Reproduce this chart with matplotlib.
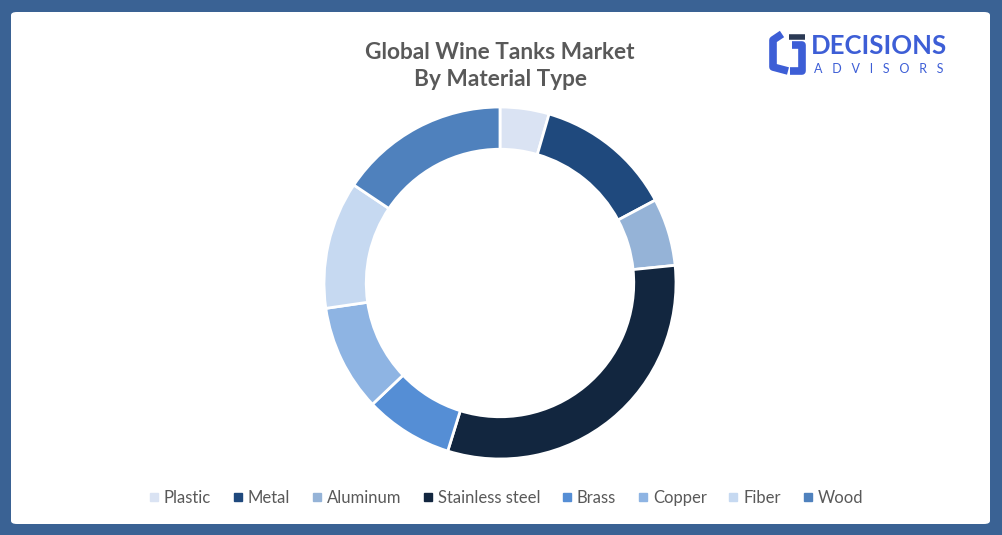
import matplotlib
matplotlib.use("Agg")
import matplotlib.pyplot as plt
from matplotlib.patches import FancyBboxPatch
from matplotlib.lines import Line2D

materials = ["Plastic", "Metal", "Aluminum", "Stainless steel", "Brass", "Copper", "Fiber", "Wood"]
shares = [4.5, 12.7, 6.2, 31.4, 8.1, 9.8, 11.7, 15.6]
colors = ["#dae3f3", "#1f497d", "#95b3d7", "#12263f", "#558ed5", "#8eb4e3", "#c6d9f1", "#4f81bd"]

W, H = 1002, 535
fig = plt.figure(figsize=(W / 100, H / 100), dpi=100)
fig.patch.set_facecolor("#3a6294")

# white card inside the blue frame
card = FancyBboxPatch((11 / W, 11 / H), 979 / W, 512 / H,
                      boxstyle="round,pad=0,rounding_size=0.006",
                      transform=fig.transFigure, facecolor="white", edgecolor="none",
                      zorder=-5)
fig.patches.append(card)

# donut
cx, cy, r = 500, 283, 176
ax = fig.add_axes([(cx - r) / W, (H - cy - r) / H, 2 * r / W, 2 * r / H])
ax.set_zorder(2)
ax.pie(shares, colors=colors, startangle=90, counterclock=False, radius=1,
       wedgeprops=dict(width=0.24, edgecolor="white", linewidth=2))
ax.set_xlim(-1.0, 1.0)
ax.set_ylim(-1.0, 1.0)
ax.set_aspect("equal")
ax.axis("off")

fig.text(500 / W, 1 - 66 / H, "Global Wine Tanks Market\nBy Material Type",
         ha="center", va="center", fontsize=16.3, fontweight="bold",
         color="#595959", family="Lato", linespacing=1.35)

handles = [Line2D([], [], marker="s", linestyle="none", markersize=6,
                  markerfacecolor=c, markeredgecolor=c) for c in colors]
fig.legend(handles, materials, loc="center", bbox_to_anchor=(505 / W, 1 - 498 / H),
           ncol=8, frameon=False, labelcolor="#595959",
           handletextpad=0.2, columnspacing=1.2, handlelength=0.8,
           prop=dict(family="Lato", size=12))

# logo
blue = "#3d5ed6"
fig.text(811 / W, 1 - 46 / H, "DECISIONS", ha="left", va="center", fontsize=18.5,
         fontweight="bold", color=blue, family="Lato")
fig.text(814 / W, 1 - 69 / H, "A   D   V   I   S   O   R   S", ha="left", va="center",
         fontsize=9, color=blue, family="Lato")
fig.add_artist(Line2D([782 / W, 773 / W, 773 / W, 788 / W],
                      [1 - 34 / H, 1 - 40 / H, 1 - 67 / H, 1 - 71 / H],
                      color=blue, linewidth=5.5, solid_capstyle="butt"))
fig.add_artist(Line2D([792 / W, 802 / W, 802 / W, 790 / W],
                      [1 - 45 / H, 1 - 45 / H, 1 - 71 / H, 1 - 71 / H],
                      color=blue, linewidth=5.5, solid_capstyle="butt"))
fig.add_artist(Line2D([789 / W, 805 / W], [1 - 37 / H, 1 - 37 / H],
                      color="#2b3a55", linewidth=4, solid_capstyle="butt"))

fig.savefig("out.png", dpi=100, facecolor=fig.get_facecolor())
